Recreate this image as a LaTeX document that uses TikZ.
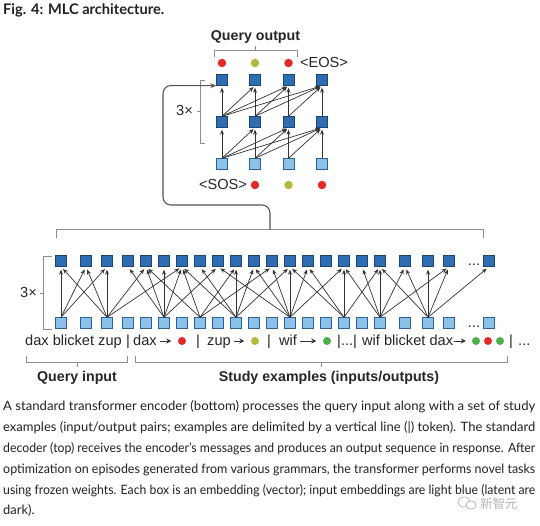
\documentclass[tikz,border=0pt]{standalone}
\usepackage{fontspec}
\usepackage{graphicx}
\setmainfont{Liberation Sans}
\newfontfamily\capfont{Lato}
\newfontfamily\cjkfont{Noto Sans CJK SC}
\usetikzlibrary{arrows.meta,calc}
\newcommand\fitline[1]{\resizebox{532pt}{\height}{#1}}
\definecolor{dkfill}{HTML}{2F6DB3}
\definecolor{dkedge}{HTML}{1E4470}
\definecolor{ltfill}{HTML}{8CC2EA}
\definecolor{ltedge}{HTML}{2D6296}
\definecolor{dotred}{HTML}{E02A2A}
\definecolor{dotolive}{HTML}{B4B83C}
\definecolor{dotgreen}{HTML}{4DB04A}
\definecolor{brk}{HTML}{8E8E8E}
\definecolor{arr}{HTML}{333333}
\definecolor{conncol}{HTML}{555555}
\definecolor{captext}{HTML}{222222}
\definecolor{wmark}{HTML}{B4B4B4}
\begin{document}
\begin{tikzpicture}[x=1pt,y=-1pt,
  dk/.style={draw=dkedge, fill=dkfill, line width=0.6pt, minimum size=10.8pt, inner sep=0pt},
  lt/.style={draw=ltedge, fill=ltfill, line width=0.6pt, minimum size=10.8pt, inner sep=0pt},
  enca/.style={draw=arr, line width=0.7pt, -{Stealth[length=5pt,width=4pt]}, shorten >=3pt},
  deca/.style={draw=arr, line width=0.7pt, -{Stealth[length=5pt,width=4pt]}, shorten >=2pt},
  tokarr/.style={draw=arr, line width=1pt, -{Stealth[length=5pt,width=5pt]}},
  dotn/.style={circle, inner sep=0pt, minimum size=8.5pt},
  brace/.style={draw=brk, line width=0.8pt},
  lbl/.style={inner sep=0pt, font=\fontsize{14.6}{16}\selectfont, text=black!85},
  blbl/.style={inner sep=0pt, font=\fontsize{14.2}{16}\selectfont\bfseries, text=black!85},
  captxt/.style={inner sep=0pt, anchor=base west, font=\capfont\fontsize{12.9}{16}\selectfont, text=captext},
  conn/.style={draw=conncol, line width=1.1pt, -{Stealth[length=6pt,width=5pt]}, rounded corners=8pt}
]
\useasboundingbox (0,0) rectangle (540,526);
\fill[white] (0,0) rectangle (540,526);

% title
\node[inner sep=0pt, anchor=base west, font=\capfont\bfseries\fontsize{14.6}{16}\selectfont, text=captext] (title) at (3,15) {Fig. 4: MLC architecture.};

% ---------- decoder ----------
\foreach \x [count=\i] in {222,255,288.5,322} {
  \node[lt] (dA\i) at (\x,164) {};
  \node[dk] (dB\i) at (\x,122) {};
  \node[dk] (dC\i) at (\x,80) {};
}
\foreach \i in {1,...,4} {
  \foreach \j in {\i,...,4} {
    \draw[deca] (dA\i.north) -- (dB\j.south);
    \draw[deca] (dB\i.north) -- (dC\j.south);
  }
}
\node[dotn, fill=dotred] (o1) at (222,63) {};
\node[dotn, fill=dotolive] (o2) at (255,63) {};
\node[dotn, fill=dotred] (o3) at (288.5,63) {};
\node[lbl, anchor=base] (eos) at (324,67.5) {<EOS>};
\node[dotn, fill=dotred] (i1) at (255,185) {};
\node[dotn, fill=dotolive] (i2) at (288.5,185) {};
\node[dotn, fill=dotred] (i3) at (322,185) {};
\node[lbl, anchor=base] (sos) at (223,190) {<SOS>};

\draw[brace] (214,57) -- (214,50.7) -- (297,50.7) -- (297,57);
\draw[brace] (255.5,50.7) -- (255.5,46);
\node[blbl, anchor=base] (qout) at (255.5,41) {Query output};

\draw[brace] (205,80) -- (200,80) -- (200,143) -- (205,143);
\draw[brace] (200,111.5) -- (197,111.5);
\node[lbl, anchor=base east] (rep1) at (193,116) {3×};

% ---------- encoder ----------
\foreach \x [count=\i from 0] in {61,86,107,128,146,164,182,200,218,236,254,272,290,308,326,344,362,380,405,428,449,489} {
  \node[lt] (b\i) at (\x,323) {};
  \node[dk] (t\i) at (\x,261) {};
}
\node[lbl, anchor=base] (tdots) at (474,265.5) {...};
\node[lbl, anchor=base] (bdots) at (474,327.5) {...};

\foreach \s/\t in {0/0,0/1,0/2,
  2/0,2/1,2/2,2/4,2/6,
  5/3,5/4,5/5,5/6,5/8,
  7/4,7/6,7/9,7/11,
  9/6,9/7,9/9,9/10,9/12,
  12/8,12/10,12/11,12/12,12/13,12/15,
  15/12,15/13,15/15,15/17,
  17/15,17/16,17/17,17/18,17/20,
  19/17,19/18,19/19,19/20,19/21} {
  \draw[enca] (b\s.north) -- (t\t.south);
}

\draw[brace] (52,256) -- (43,256) -- (43,329) -- (52,329);
\draw[brace] (43,293) -- (40,293);
\node[lbl, anchor=base east] (rep2) at (37,297.5) {3×};

% encoder output bracket and connector to decoder
\draw[brace] (56,238) -- (56,229.5) -- (483,229.5) -- (483,238);
\coordinate (ebm) at (270,229.5);
\draw[conn] (ebm) -- (270,205) -- (163,205) -- (163,85.5) -- (dC1.south west);

% ---------- token line ----------
\node[lbl, anchor=base west] (tk1) at (25,345) {dax blicket zup};
\node[lbl, anchor=base] (tk2) at (128,345) {|};
\node[lbl, anchor=base west] (tk3) at (133,345) {dax};
\node[dotn, fill=dotred, minimum size=8pt] (dt1) at (182,341) {};
\draw[tokarr, shorten <=3pt, shorten >=6.5pt] (tk3.east |- dt1.west) -- (dt1.west);
\node[lbl, anchor=base] (tk4) at (198,345) {|};
\node[lbl, anchor=base west] (tk5) at (207,345) {zup};
\node[dotn, fill=dotolive, minimum size=8pt] (dt2) at (255,341) {};
\draw[tokarr, shorten <=3pt, shorten >=6.5pt] (tk5.east |- dt2.west) -- (dt2.west);
\node[lbl, anchor=base] (tk6) at (269,345) {|};
\node[lbl, anchor=base west] (tk7) at (279,345) {wif};
\node[dotn, fill=dotgreen, minimum size=8pt] (dt3) at (327,341) {};
\draw[tokarr, shorten <=3pt, shorten >=6.5pt] (tk7.east |- dt3.west) -- (dt3.west);
\node[lbl, anchor=base west] (tk8) at (337,345) {|...|};
\node[lbl, anchor=base west] (tk9) at (362,345) {wif blicket dax};
\node[dotn, fill=dotgreen, minimum size=8pt] (dt4) at (476,341) {};
\node[dotn, fill=dotred, minimum size=8pt] (dt5) at (488,341) {};
\node[dotn, fill=dotgreen, minimum size=8pt] (dt6) at (500,341) {};
\draw[tokarr, shorten <=1pt, shorten >=6pt] (tk9.east |- dt4.west) -- (dt4.west);
\node[lbl, anchor=base] (tk10) at (511,345) {|};
\node[lbl, anchor=base west] (tk11) at (518,345) {...};

% query / study brackets
\draw[brace] (26,356) -- (26,362.5) -- (127,362.5) -- (127,356);
\draw[brace] (77,362.5) -- (77,366.5);
\draw[brace] (135,356) -- (135,362.5) -- (507,362.5) -- (507,356);
\draw[brace] (321,362.5) -- (321,366.5);
\node[blbl, anchor=base] (qin) at (77,381) {Query input};
\node[blbl, anchor=base] (study) at (329,381) {Study examples (inputs/outputs)};

% ---------- caption ----------
\node[captxt] (c1) at (3,410.5) {\fitline{A standard transformer encoder (bottom) processes the query input along with a set of study}};
\node[captxt] (c2) at (3,431.3) {\fitline{examples (input/output pairs; examples are delimited by a vertical line (|) token). The standard}};
\node[captxt] (c3) at (3,452) {\fitline{decoder (top) receives the encoder’s messages and produces an output sequence in response. After}};
\node[captxt] (c4) at (3,473) {\fitline{optimization on episodes generated from various grammars, the transformer performs novel tasks}};
\node[captxt] (c5) at (3,494) {\fitline{using frozen weights. Each box is an embedding (vector); input embeddings are light blue (latent are}};
\node[captxt] (c6) at (3,514.5) {dark).};

% watermark
\draw[wmark, line width=0.7pt, fill=white] (464,502) ellipse (6pt and 5pt);
\draw[wmark, line width=0.7pt, fill=white] (471,505) ellipse (5pt and 4.2pt);
\node[inner sep=0pt, anchor=west, font=\cjkfont\fontsize{12.5}{14}\selectfont, text=wmark] (wm) at (480,503.5) {新智元};
\end{tikzpicture}
\end{document}
